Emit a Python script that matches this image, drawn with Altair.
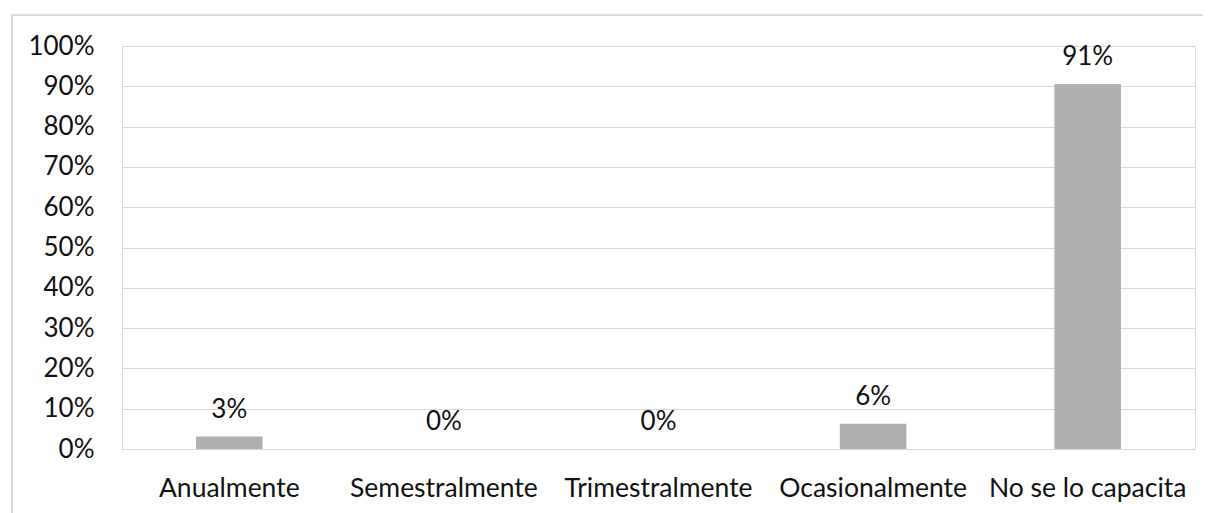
import altair as alt
import pandas as pd

categories = ["Anualmente", "Semestralmente", "Trimestralmente", "Ocasionalmente", "No se lo capacita"]
values = [0.031, 0.0, 0.0, 0.0625, 0.906]
labels = ["3%", "0%", "0%", "6%", "91%"]
y_ticks = [0, 0.1, 0.2, 0.3, 0.4, 0.5, 0.6, 0.7, 0.8, 0.9, 1.0]

df = pd.DataFrame({"cat": categories, "val": values, "lab": labels})

FONT = "Lato"
W, H = 1073, 403

x_enc = alt.X(
    "cat:N",
    sort=categories,
    scale=alt.Scale(paddingInner=0.69, paddingOuter=0.345),
    axis=alt.Axis(
        title=None, labelAngle=0, ticks=False, domain=True, domainColor="#D9D9D9",
        domainWidth=1, labelFont=FONT, labelFontSize=26.5, labelColor="#111111",
        labelPadding=47, labelBaseline="alphabetic", grid=False, labelLimit=0,
    ),
)
y_enc = alt.Y(
    "val:Q",
    scale=alt.Scale(domain=[0, 1], nice=False),
    axis=alt.Axis(
        title=None, values=y_ticks, format=".0%", ticks=False, domain=False,
        grid=True, gridColor="#D9D9D9", gridWidth=1, labelFont=FONT,
        labelFontSize=26, labelColor="#111111", labelPadding=28,
        labelBaseline="middle",
    ),
)

frame = alt.Chart(df).mark_rect(fill=None, stroke="#D9D9D9", strokeWidth=1.2).encode(
    x=alt.value(-110), x2=alt.value(1400), y=alt.value(-31), y2=alt.value(800)
)

bars = alt.Chart(df).mark_bar(color="#B0B0B0").encode(x=x_enc, y=y_enc)

text = alt.Chart(df).mark_text(
    font=FONT, fontSize=26, color="#111111", baseline="alphabetic", dy=-19
).encode(x=alt.X("cat:N", sort=categories), y="val:Q", text="lab:N")

chart = alt.layer(frame, bars, text).properties(
    width=W, height=H,
    autosize=alt.AutoSizeParams(type="none"),
    padding={"left": 114, "top": 38, "right": 8, "bottom": 64},
).configure_view(stroke=None).configure(background="white")

chart.save("out.html", embed_options={"renderer": "svg", "actions": False})
